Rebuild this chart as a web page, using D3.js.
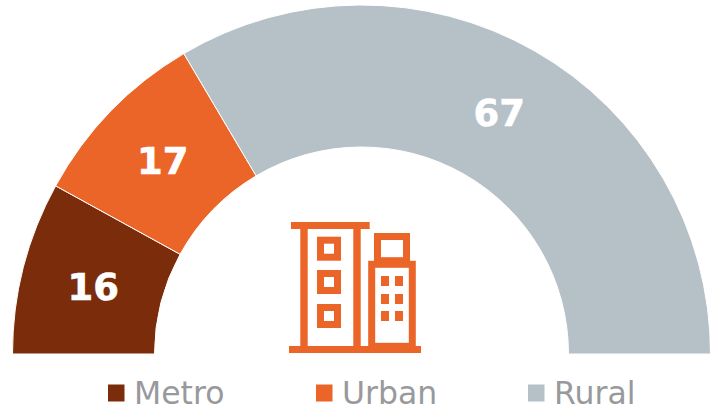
<!DOCTYPE html>
<html><head><meta charset="utf-8">
<script src="https://cdn.jsdelivr.net/npm/d3@7"></script>
<style>html,body{margin:0;padding:0;background:#fff}svg{display:block}text{font-family:"DejaVu Sans",sans-serif}</style>
</head><body><svg id="c" width="710" height="409"></svg>
<script>
const categories=["Metro","Urban","Rural"];
const values=[16,17,67];
const colors=["#7b2d0b","#eb6428","#b5c0c7"];
const svg=d3.select("#c");
const cx=361.5,cy=354,R=349,r=207;
const pie=d3.pie().sort(null).startAngle(-Math.PI/2).endAngle(Math.PI/2);
const arc=d3.arc().innerRadius(r).outerRadius(R);
const g=svg.append("g").attr("transform",`translate(${cx},${cy})`);
const arcs=pie(values);
g.selectAll("path").data(arcs).join("path").attr("d",arc).attr("fill",(d,i)=>colors[i]).attr("stroke","#fff").attr("stroke-width",1);
const labelNudge=[[1,2],[1,0],[0,0]];
g.selectAll("text").data(arcs).join("text").text(d=>d.data)
 .attr("transform",(d,i)=>{const c=arc.centroid(d);return `translate(${c[0]+labelNudge[i][0]},${c[1]+labelNudge[i][1]})`;})
 .attr("text-anchor","middle").attr("dy","0.36em").attr("fill","#fff").attr("font-weight","bold").attr("font-size",37).attr("stroke","#fff").attr("stroke-width",0.6);
const swatchX=[108,316,528];
const labelX=[134,342,554];
const leg=svg.selectAll("g.l").data(categories).join("g").attr("class","l");
leg.append("rect").attr("x",(d,i)=>swatchX[i]).attr("y",384.5).attr("width",16.5).attr("height",17).attr("fill",(d,i)=>colors[i]);
leg.append("text").text(d=>d).attr("x",(d,i)=>labelX[i]).attr("y",404).attr("font-size",31.5).attr("fill","#98999c");
// Building icon
const iconSolid=[
 [291,222,78.7,7],[300.3,229,7.4,117],[353.3,229,7.4,117],[289,346,132,7],
 [381,276,8,10],[395,276,8,10],[381,294,8,10],[395,294,8,10],[381,311,8,10],[395,311,8,10]];
const iconFrames=[
 [320.5,240.2,17,17],[320.5,273.5,17,17],[320.5,307.5,17,17],
 [371.7,264.3,40.6,82],[377.5,236.5,29,24.2]];
const icon=svg.append("g");
icon.selectAll("rect.s").data(iconSolid).join("rect").attr("class","s")
 .attr("x",d=>d[0]).attr("y",d=>d[1]).attr("width",d=>d[2]).attr("height",d=>d[3]).attr("fill","#eb6428");
icon.selectAll("rect.f").data(iconFrames).join("rect").attr("class","f")
 .attr("x",d=>d[0]).attr("y",d=>d[1]).attr("width",d=>d[2]).attr("height",d=>d[3])
 .attr("fill","none").attr("stroke","#eb6428").attr("stroke-width",7);
</script></body></html>
